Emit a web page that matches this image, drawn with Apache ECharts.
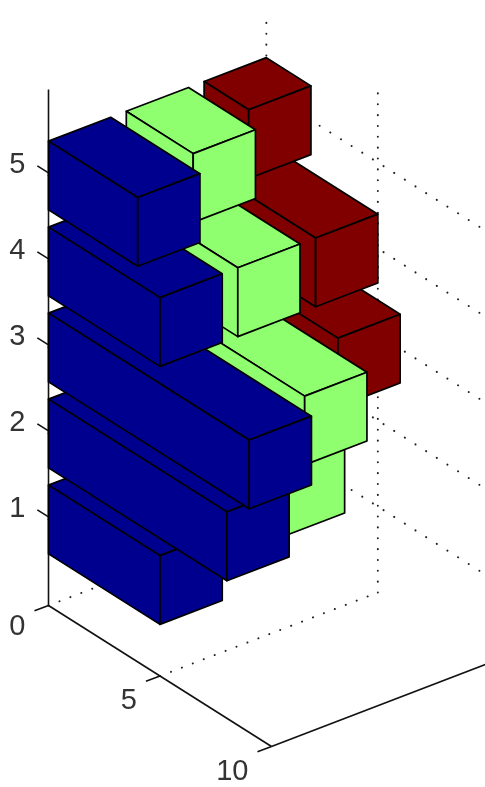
<!DOCTYPE html>
<html>
<head>
<meta charset="utf-8">
<style>
  html, body { margin: 0; padding: 0; background: #fff; }
  #chart { width: 485px; height: 787px; }
</style>
</head>
<body>
<div id="chart"></div>
<script src="https://cdn.jsdelivr.net/npm/echarts@6/dist/echarts.min.js"></script>
<script>
// rows 1..5 (vertical axis), bar length read along the value axis
const categories = [1, 2, 3, 4, 5];
const blueValues = [5, 8, 9, 5, 4];
const greenValues = [3, 7, 8, 5, 3]; // row 1 is hidden behind the blue bars, estimated
const redValues = [2, 3, 6, 5, 2];   // rows 1, 2 hidden too, estimated

const xTicks = [0, 5, 10];
const zTicks = [1, 2, 3, 4, 5];

const barHalf = 0.4;
const yMin = 0.6, yMax = 3.4, zMax = 6, zWallTop = 5.92;

// oblique view of the 3d box, result is in the units of the hidden 2d axes
function project(x, y, z) {
  return [
    48.5 + x * 22.3 + (y - yMin) * 77.8,
    605.5 + x * 14.1 - (y - yMin) * 29.8 - z * 86
  ];
}

function polygon(api, corners, fill) {
  return {
    type: "polygon",
    shape: { points: corners.map((c) => api.coord(project(c[0], c[1], c[2]))) },
    style: { fill: fill, stroke: "#000", lineWidth: 1.7, lineJoin: "round" },
  };
}

function barSeries(values, depth, color) {
  return {
    type: "custom",
    coordinateSystem: "cartesian2d",
    silent: true,
    data: values.map((v, i) => [v, depth, categories[i]]),
    renderItem: (params, api) => {
      const v = api.value(0);
      const y0 = api.value(1) - barHalf, y1 = api.value(1) + barHalf;
      const z0 = api.value(2) - barHalf, z1 = api.value(2) + barHalf;
      return {
        type: "group",
        children: [
          polygon(api, [[0, y0, z1], [v, y0, z1], [v, y1, z1], [0, y1, z1]], color),
          polygon(api, [[0, y0, z0], [v, y0, z0], [v, y0, z1], [0, y0, z1]], color),
          polygon(api, [[v, y0, z0], [v, y1, z0], [v, y1, z1], [v, y0, z1]], color),
        ],
      };
    },
  };
}

// every segment: [from, to, stroke kind]
const segments = [];
const dots = { floor: 11.7, wall: 10.85, side: 12.6 };
segments.push([[0, yMin, 0], [0, yMax, 0], "floor"]);
segments.push([[5, yMin, 0], [5, yMax, 0], "floor"]);
segments.push([[0, yMax, 0], [0, yMax, zWallTop], "wall"]);
segments.push([[5, yMax, 0], [5, yMax, zWallTop], "wall"]);
zTicks.forEach((k) => {
  segments.push([[0, yMin, k], [0, yMax, k], "floor"]);
  segments.push([[0, yMax, k], [10, yMax, k], "side"]);
});
segments.push([[0, yMin, 0], [0, yMin, zMax], "solid"]);
segments.push([[0, yMin, 0], [10, yMin, 0], "solid"]);
segments.push([[10, yMin, 0], [10, yMin + 3, 0], "solid"]);
xTicks.forEach((k) => segments.push([[k, yMin, 0], [k, yMin - 0.18, 0], "solid"]));
zTicks.forEach((k) => segments.push([[0, yMin, k + 0.03], [-0.5, yMin, k + 0.03], "solid"]));

const boxSeries = {
  type: "custom",
  coordinateSystem: "cartesian2d",
  silent: true,
  data: segments.map((s, i) => [i]),
  renderItem: (params, api) => {
    const seg = segments[api.value(0)];
    const a = api.coord(project(...seg[0]));
    const b = api.coord(project(...seg[1]));
    const dotted = seg[2] !== "solid";
    return {
      type: "line",
      shape: { x1: a[0], y1: a[1], x2: b[0], y2: b[1] },
      style: dotted
        ? { stroke: "#222", lineWidth: 2, lineCap: "round", lineDash: [0.1, dots[seg[2]] - 0.1] }
        : { stroke: "#111", lineWidth: 1.6 },
    };
  },
};

// tick labels: [text, x, z, kind]
const labels = [];
xTicks.forEach((k) => labels.push([String(k), k, 0, "x"]));
zTicks.forEach((k) => labels.push([String(k), 0, k, "z"]));

const labelSeries = {
  type: "custom",
  coordinateSystem: "cartesian2d",
  silent: true,
  data: labels.map((l, i) => [i]),
  renderItem: (params, api) => {
    const l = labels[api.value(0)];
    const p = api.coord(project(l[1], yMin, l[2]));
    const dy = l[3] === "z" ? -11 : (l[1] === 0 ? 21 : 25);
    return {
      type: "text",
      style: {
        x: p[0] - 23,
        y: p[1] + dy,
        text: l[0],
        fill: "#333",
        fontSize: 29,
        fontFamily: "Liberation Sans",
        align: "right",
        verticalAlign: "middle",
      },
    };
  },
};

const chart = echarts.init(document.getElementById("chart"));
chart.setOption({
  animation: false,
  backgroundColor: "#fff",
  grid: { left: 0, right: 0, top: 0, bottom: 0 },
  xAxis: { type: "value", min: 0, max: 485, show: false },
  yAxis: { type: "value", min: 0, max: 787, inverse: true, show: false },
  series: [
    boxSeries,
    barSeries(redValues, 3, "#800000"),
    barSeries(greenValues, 2, "#8FFF70"),
    barSeries(blueValues, 1, "#00008F"),
    labelSeries,
  ],
});
</script>
</body>
</html>
